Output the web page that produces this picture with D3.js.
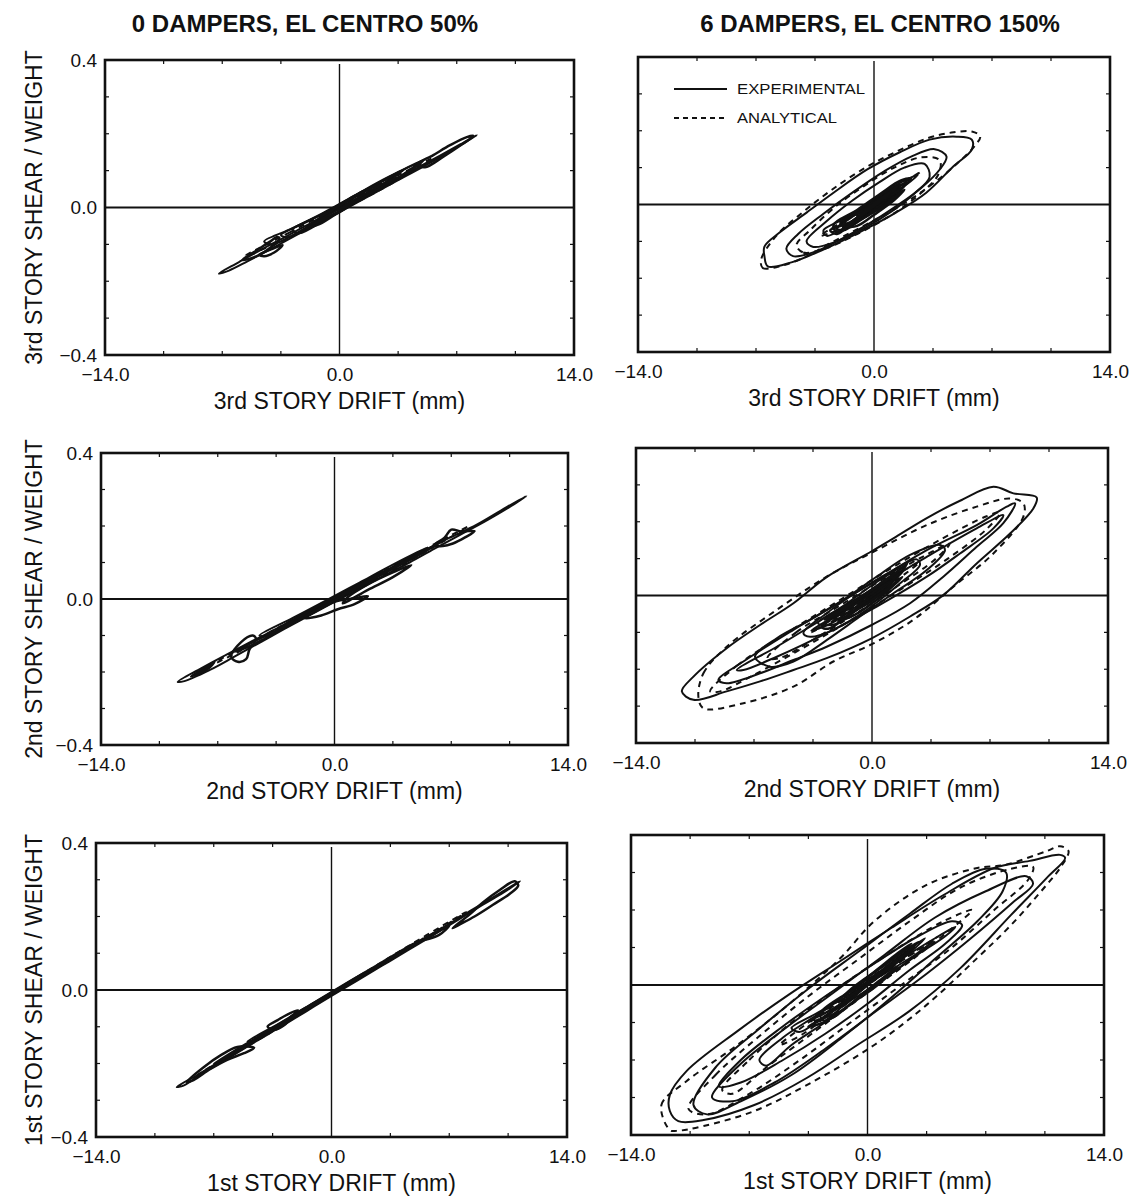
<!DOCTYPE html>
<html>
<head>
<meta charset="utf-8">
<script src="https://cdn.jsdelivr.net/npm/d3@7"></script>
<style>
  body { margin: 0; background: #fff; }
  svg text { font-family: "Liberation Sans", "DejaVu Sans", Arial, sans-serif; fill: #111; }
</style>
</head>
<body>
<svg id="chart" width="1139" height="1200"></svg>
<script>
// Axis ticks and labels
const xTicks = [-14, 0, 14];
const yTicks = [-0.4, 0, 0.4];
const xMinorTicks = [-10.5, -7, -3.5, 3.5, 7, 10.5];
const yMinorTicks = [-0.3, -0.2, -0.1, 0.1, 0.2, 0.3];
const columnTitles = ['0 DAMPERS, EL CENTRO 50%', '6 DAMPERS, EL CENTRO 150%'];
const storyNames = ['3rd', '2nd', '1st'];
const legendLabels = ['EXPERIMENTAL', 'ANALYTICAL'];

// Loops: [drift (mm), shear / weight]
// 0 dampers, 3rd story
const exp0d3 = [
  [[-7.2,-0.179],[-6.0,-0.148],[-4.5,-0.110],[-3.0,-0.074],[-1.5,-0.037],[0,-0.002],[1.5,0.033],[3.0,0.068],[4.5,0.104],[6.0,0.141],[7.2,0.171],[8.2,0.196],[7.6,0.179],[6.4,0.147],[5.0,0.111],[3.5,0.074],[2.0,0.037],[0.5,0.0],[-1.0,-0.036],[-2.5,-0.073],[-4.0,-0.110],[-5.5,-0.146],[-6.6,-0.171]],
  [[-5.8,-0.142],[-5.0,-0.118],[-4.2,-0.094],[-3.7,-0.080],[-3.6,-0.088],[-4.1,-0.108],[-4.6,-0.124],[-5.3,-0.138]],
  [[-4.8,-0.128],[-4.0,-0.112],[-3.4,-0.102],[-3.9,-0.122],[-4.5,-0.132]],
  [[4.6,0.116],[5.6,0.142],[6.6,0.169],[7.6,0.191],[8.0,0.194],[7.3,0.171],[6.2,0.138],[5.1,0.109]],
  [[-4.5,-0.092],[-3.0,-0.060],[-1.0,-0.015],[0.8,0.030],[2.8,0.080],[4.6,0.118],[3.8,0.090],[2.0,0.040],[0.0,-0.010],[-2.0,-0.055],[-4.0,-0.100]],
  [[-3.5,-0.075],[-2.0,-0.040],[-0.5,-0.005],[1.0,0.035],[2.5,0.070],[3.8,0.100],[3.0,0.075],[1.5,0.035],[0.0,0.0],[-1.5,-0.040],[-3.0,-0.080]],
  [[-2.8,-0.060],[-1.2,-0.022],[0.5,0.020],[2.0,0.058],[3.2,0.085],[2.2,0.050],[0.8,0.010],[-0.8,-0.032],[-2.4,-0.070]],
  [[-2.0,-0.055],[-0.5,-0.010],[1.0,0.030],[2.4,0.065],[1.8,0.040],[0.2,-0.005],[-1.2,-0.045]],
  [[-1.2,-0.030],[0.0,0.005],[1.5,0.045],[1.0,0.020],[-0.3,-0.020]],
  [[2.0,0.055],[3.5,0.095],[5.0,0.128],[4.2,0.100],[2.8,0.065]],
  [[-1.6,-0.045],[0.2,0.002],[2.0,0.050],[3.4,0.082],[2.6,0.058],[0.8,0.012],[-0.8,-0.030]]
];
const ana0d3 = [
  [[-5.6,-0.130],[-3.0,-0.068],[0.0,0.004],[3.0,0.076],[5.6,0.134],[3.0,0.062],[0.0,-0.010],[-3.0,-0.082]]
];

// 0 dampers, 2nd story
const exp0d2 = [
  [[-9.4,-0.227],[-8.0,-0.190],[-6.5,-0.153],[-5.0,-0.117],[-3.5,-0.082],[-2.0,-0.045],[-0.5,-0.010],[1.0,0.028],[2.5,0.063],[4.0,0.100],[5.5,0.135],[7.0,0.170],[8.5,0.203],[10.0,0.243],[11.5,0.282],[10.6,0.255],[9.0,0.212],[7.5,0.175],[6.0,0.138],[4.5,0.100],[3.0,0.065],[1.5,0.028],[0.0,-0.008],[-1.5,-0.045],[-3.0,-0.082],[-4.5,-0.120],[-6.0,-0.158],[-7.5,-0.195],[-9.0,-0.225]],
  [[-6.2,-0.158],[-5.6,-0.118],[-4.9,-0.100],[-4.7,-0.110],[-5.1,-0.138],[-5.3,-0.165],[-5.8,-0.172]],
  [[-8.6,-0.212],[-7.8,-0.190],[-7.2,-0.172],[-7.6,-0.192],[-8.2,-0.206]],
  [[6.0,0.148],[6.6,0.168],[7.0,0.190],[7.6,0.185],[8.4,0.186],[7.8,0.168],[7.1,0.152],[6.5,0.145]],
  [[-1.8,-0.052],[-1.0,-0.030],[0.0,-0.008],[1.2,0.002],[2.0,0.008],[1.2,-0.014],[0.2,-0.028],[-0.8,-0.045]],
  [[0.5,-0.012],[2.0,0.025],[3.5,0.060],[4.6,0.093],[3.6,0.075],[2.0,0.040],[0.8,0.005]],
  [[-4.5,-0.100],[-2.5,-0.052],[-0.5,-0.004],[1.5,0.045],[3.5,0.094],[5.5,0.140],[4.0,0.100],[2.0,0.050],[0.0,0.0],[-2.0,-0.050],[-4.0,-0.100]],
  [[-3.0,-0.070],[-1.5,-0.034],[0.0,0.004],[1.5,0.040],[3.0,0.078],[2.0,0.046],[0.5,0.010],[-1.0,-0.028],[-2.5,-0.066]],
  [[-2.0,-0.046],[-0.6,-0.012],[0.8,0.022],[2.0,0.052],[1.0,0.022],[-0.4,-0.014],[-1.6,-0.044]],
  [[-6.0,-0.145],[-3.5,-0.086],[-1.0,-0.020],[1.5,0.038],[4.0,0.098],[6.5,0.160],[5.0,0.118],[2.5,0.058],[0.0,-0.004],[-2.5,-0.066],[-5.0,-0.128]]
];
const ana0d2 = [
  [[-8.0,-0.195],[-4.0,-0.094],[0.0,0.004],[4.0,0.102],[8.0,0.198],[4.0,0.092],[0.0,-0.006],[-4.0,-0.104]]
];

// 0 dampers, 1st story
const exp0d1 = [
  [[-9.2,-0.264],[-8.0,-0.232],[-6.5,-0.190],[-5.0,-0.148],[-3.5,-0.107],[-2.0,-0.066],[-0.5,-0.025],[1.0,0.016],[2.5,0.058],[4.0,0.100],[5.5,0.140],[7.0,0.180],[8.5,0.222],[10.0,0.263],[11.2,0.296],[10.4,0.270],[9.0,0.232],[7.5,0.190],[6.0,0.148],[4.5,0.107],[3.0,0.066],[1.5,0.025],[0.0,-0.016],[-1.5,-0.058],[-3.0,-0.100],[-4.5,-0.140],[-6.0,-0.182],[-7.5,-0.222],[-8.8,-0.260]],
  [[7.2,0.168],[8.2,0.205],[9.0,0.238],[10.0,0.272],[10.9,0.296],[11.1,0.284],[10.6,0.262],[9.6,0.232],[8.5,0.200],[7.6,0.178]],
  [[-8.6,-0.250],[-7.6,-0.210],[-6.6,-0.178],[-5.6,-0.155],[-4.6,-0.157],[-5.2,-0.172],[-6.2,-0.190],[-7.2,-0.215],[-8.2,-0.245]],
  [[-3.8,-0.100],[-3.2,-0.082],[-2.6,-0.066],[-2.0,-0.055],[-2.3,-0.070],[-2.8,-0.095],[-3.4,-0.108]],
  [[5.4,0.135],[6.3,0.158],[7.0,0.175],[6.4,0.150]],
  [[-5.0,-0.140],[-3.0,-0.088],[-1.0,-0.033],[1.0,0.022],[3.0,0.076],[5.0,0.130],[3.5,0.085],[1.5,0.030],[-0.5,-0.025],[-2.5,-0.080],[-4.5,-0.135]],
  [[-2.5,-0.075],[-1.0,-0.034],[0.5,0.006],[2.0,0.048],[1.0,0.018],[-0.5,-0.022],[-2.0,-0.066]],
  [[-7.0,-0.200],[-4.5,-0.130],[-2.0,-0.062],[0.5,0.006],[3.0,0.072],[5.5,0.142],[4.0,0.098],[1.5,0.030],[-1.0,-0.040],[-3.5,-0.110],[-6.0,-0.178]]
];
const ana0d1 = [
  [[-8.0,-0.232],[-4.0,-0.120],[0.0,-0.008],[4.0,0.104],[8.0,0.212],[4.0,0.096],[0.0,-0.014],[-4.0,-0.126]]
];

// 6 dampers, 3rd story
const exp6d3 = [
  [[-6.5,-0.140],[-6.3,-0.168],[-4.9,-0.157],[-3.0,-0.122],[-0.9,-0.076],[1.3,-0.022],[3.1,0.032],[4.7,0.103],[5.8,0.149],[5.8,0.176],[4.9,0.184],[3.3,0.176],[1.5,0.141],[-0.4,0.095],[-2.4,0.032],[-4.0,-0.022],[-5.6,-0.076],[-6.5,-0.114]],
  [[-5.2,-0.120],[-4.8,-0.140],[-3.5,-0.128],[-2.0,-0.095],[-0.3,-0.052],[1.3,-0.005],[2.8,0.045],[3.9,0.095],[4.3,0.130],[3.6,0.150],[2.2,0.130],[0.6,0.090],[-1.2,0.035],[-3.0,-0.025],[-4.5,-0.080]],
  [[-4.0,-0.100],[-3.6,-0.115],[-2.2,-0.100],[-0.6,-0.065],[1.0,-0.020],[2.4,0.030],[3.3,0.075],[3.0,0.110],[1.8,0.100],[0.3,0.060],[-1.3,0.010],[-2.8,-0.045]],
  [[-2.2,-0.065],[-1.2,-0.030],[0.0,0.010],[1.2,0.040],[1.9,0.060],[1.4,0.030],[0.3,-0.010],[-0.9,-0.045],[-1.8,-0.070]],
  [[-1.8,-0.045],[-0.6,-0.010],[0.6,0.030],[1.6,0.055],[1.0,0.020],[-0.2,-0.020],[-1.4,-0.055]],
  [[-1.4,-0.050],[-0.3,-0.015],[0.8,0.020],[1.5,0.045],[0.6,0.005],[-0.6,-0.035]],
  [[-2.4,-0.055],[-1.0,-0.015],[0.4,0.030],[1.6,0.065],[2.2,0.070],[1.5,0.040],[0.2,0.000],[-1.2,-0.050],[-2.2,-0.075]],
  [[-1.0,-0.030],[0.0,0.000],[1.0,0.030],[0.4,0.000],[-0.5,-0.030]],
  [[-3.0,-0.070],[-1.6,-0.035],[0.0,0.015],[1.6,0.060],[2.6,0.080],[1.8,0.050],[0.2,0.000],[-1.5,-0.055],[-2.8,-0.085]],
  [[-2.0,-0.050],[-0.8,-0.020],[0.4,0.015],[1.4,0.050],[0.8,0.022],[-0.4,-0.018],[-1.6,-0.060]],
  [[-1.6,-0.060],[-0.4,-0.030],[0.8,0.005],[1.8,0.040],[1.2,0.012],[0.0,-0.028],[-1.0,-0.058]],
  [[-2.6,-0.070],[-1.4,-0.048],[-0.2,-0.012],[1.0,0.035],[0.2,0.010],[-1.0,-0.035],[-2.2,-0.080]]
];
const ana6d3 = [
  [[-6.7,-0.150],[-6.6,-0.172],[-5.8,-0.170],[-4.2,-0.145],[-2.4,-0.100],[-0.5,-0.055],[1.5,-0.005],[3.3,0.050],[4.9,0.110],[6.0,0.160],[6.3,0.185],[5.8,0.198],[4.6,0.195],[3.2,0.180],[1.4,0.145],[-0.5,0.100],[-2.5,0.040],[-4.2,-0.020],[-5.8,-0.085]],
  [[-4.6,-0.110],[-4.2,-0.130],[-2.8,-0.118],[-1.0,-0.080],[0.8,-0.035],[2.5,0.020],[3.8,0.080],[3.9,0.120],[2.8,0.128],[1.2,0.100],[-0.6,0.050],[-2.4,-0.010],[-3.8,-0.070]],
  [[-3.2,-0.085],[-2.0,-0.050],[0.0,0.010],[2.0,0.065],[2.8,0.090],[1.8,0.060],[0.0,0.000],[-2.0,-0.065]]
];

// 6 dampers, 2nd story
const exp6d2 = [
  [[-11.28,-0.260],[-10.59,-0.220],[-8.62,-0.143],[-6.64,-0.080],[-4.66,-0.021],[-2.69,0.050],[-0.02,0.120],[1.27,0.155],[3.25,0.210],[5.22,0.257],[7.2,0.295],[8.39,0.277],[9.77,0.266],[9.57,0.236],[8.19,0.168],[6.21,0.087],[4.23,0.001],[2.26,-0.057],[-0.02,-0.116],[-2.69,-0.170],[-4.66,-0.202],[-6.64,-0.233],[-8.62,-0.260],[-10.59,-0.283]],
  [[-9.11,-0.229],[-7.63,-0.179],[-4.66,-0.093],[-2.69,-0.039],[-0.02,0.033],[3.25,0.123],[6.21,0.191],[7.99,0.241],[8.49,0.250],[7.79,0.196],[6.21,0.132],[4.23,0.051],[2.26,-0.021],[-0.02,-0.080],[-2.69,-0.139],[-4.66,-0.175],[-6.64,-0.211],[-8.62,-0.238]],
  [[-8.02,-0.202],[-5.65,-0.139],[-2.69,-0.057],[0.28,0.024],[3.25,0.105],[6.21,0.182],[7.79,0.218],[7.2,0.182],[5.22,0.114],[3.25,0.051],[0.28,-0.030],[-2.69,-0.102],[-5.65,-0.166],[-7.63,-0.202]],
  [[-6.94,-0.166],[-5.65,-0.116],[-3.67,-0.066],[-1.7,-0.012],[0.28,0.051],[2.26,0.110],[4.04,0.137],[4.33,0.123],[3.25,0.069],[1.27,0.006],[-0.71,-0.057],[-2.69,-0.121],[-4.66,-0.179],[-6.05,-0.193]],
  [[-4.07,-0.102],[-2.69,-0.048],[-0.71,0.015],[1.27,0.069],[2.65,0.098],[2.85,0.083],[1.67,0.033],[-0.31,-0.039],[-2.29,-0.093],[-3.67,-0.112]],
  [[-3.6,-0.095],[-2.0,-0.050],[0.0,0.010],[2.1,0.087],[1.4,0.050],[-0.4,-0.012],[-2.4,-0.075]],
  [[-3.0,-0.085],[-1.4,-0.035],[0.6,0.028],[1.9,0.070],[0.8,0.020],[-1.0,-0.040],[-2.6,-0.090]],
  [[-2.4,-0.060],[-0.8,-0.012],[1.0,0.045],[1.6,0.060],[0.2,0.005],[-1.6,-0.060]],
  [[-1.8,-0.050],[-0.2,0.000],[1.2,0.040],[0.4,0.000],[-1.0,-0.040]],
  [[-3.2,-0.075],[-1.6,-0.025],[0.4,0.040],[2.0,0.082],[1.2,0.040],[-0.6,-0.022],[-2.2,-0.078]],
  [[-2.0,-0.070],[-0.6,-0.030],[0.8,0.015],[1.8,0.050],[0.6,0.000],[-1.0,-0.052]],
  [[-2.8,-0.065],[-1.2,-0.020],[0.4,0.030],[1.6,0.068],[0.8,0.040],[-0.8,-0.010],[-2.4,-0.058]]
];
const ana6d2 = [
  [[-10.3,-0.274],[-10.0,-0.211],[-8.62,-0.139],[-5.65,-0.039],[-2.69,0.051],[0.28,0.123],[3.25,0.191],[6.21,0.241],[8.19,0.263],[8.98,0.250],[8.98,0.214],[7.2,0.114],[4.83,0.024],[2.45,-0.066],[0.08,-0.130],[-2.29,-0.179],[-4.66,-0.247],[-7.63,-0.292],[-10.0,-0.306]],
  [[-9.6,-0.260],[-8.0,-0.190],[-5.0,-0.100],[-2.0,-0.015],[1.0,0.070],[4.0,0.150],[6.8,0.215],[7.6,0.225],[6.8,0.180],[4.5,0.100],[2.0,0.025],[-1.0,-0.060],[-4.0,-0.140],[-7.0,-0.215],[-9.0,-0.260]],
  [[-6.2,-0.170],[-4.5,-0.100],[-2.0,-0.030],[0.5,0.040],[3.0,0.105],[4.6,0.140],[3.8,0.100],[1.5,0.025],[-1.0,-0.050],[-3.5,-0.120],[-5.5,-0.170]],
  [[-3.6,-0.100],[-2.0,-0.055],[0.0,0.000],[2.0,0.060],[2.8,0.090],[1.6,0.060],[-0.2,0.000],[-2.0,-0.060]]
];

// 6 dampers, 1st story
const exp6d1 = [
  [[-11.7,-0.336],[-11.2,-0.363],[-9.7,-0.360],[-6.7,-0.320],[-3.6,-0.248],[-0.6,-0.160],[2.5,-0.069],[5.5,0.045],[8.5,0.187],[10.6,0.285],[11.7,0.339],[11.4,0.347],[9.6,0.331],[7.5,0.312],[4.5,0.240],[1.4,0.152],[-1.6,0.064],[-4.7,-0.027],[-7.7,-0.123],[-10.7,-0.229],[-11.7,-0.293]],
  [[-10.3,-0.320],[-9.0,-0.220],[-6.5,-0.120],[-3.5,-0.010],[-0.5,0.090],[2.5,0.190],[5.0,0.270],[7.0,0.310],[8.2,0.300],[8.0,0.250],[6.5,0.170],[4.0,0.070],[1.5,-0.030],[-1.5,-0.140],[-4.5,-0.240],[-7.5,-0.310],[-9.5,-0.345]],
  [[-9.2,-0.300],[-7.5,-0.210],[-5.0,-0.120],[-2.0,-0.020],[1.0,0.080],[4.0,0.180],[7.0,0.250],[9.4,0.290],[9.8,0.270],[8.6,0.220],[6.0,0.120],[3.5,0.030],[0.5,-0.070],[-2.5,-0.170],[-5.5,-0.260],[-8.0,-0.310]],
  [[-8.8,-0.270],[-7.5,-0.200],[-5.0,-0.110],[-2.5,-0.030],[0.5,0.060],[3.0,0.130],[5.0,0.170],[5.6,0.160],[4.6,0.110],[2.5,0.040],[0.0,-0.050],[-2.5,-0.130],[-5.0,-0.200],[-7.5,-0.260]],
  [[-6.4,-0.200],[-5.0,-0.140],[-3.0,-0.080],[-0.5,0.000],[2.0,0.070],[4.2,0.130],[5.2,0.155],[4.6,0.130],[2.6,0.070],[0.2,-0.010],[-2.2,-0.090],[-4.5,-0.160],[-6.0,-0.215]],
  [[-4.5,-0.115],[-3.2,-0.080],[-1.2,-0.030],[1.0,0.030],[2.8,0.080],[3.9,0.117],[3.2,0.090],[1.4,0.030],[-0.6,-0.030],[-2.6,-0.085],[-4.0,-0.125]],
  [[-3.0,-0.100],[-1.8,-0.060],[-0.3,-0.010],[1.2,0.040],[2.6,0.090],[3.4,0.125],[2.6,0.100],[1.0,0.045],[-0.6,-0.015],[-2.2,-0.075]],
  [[-2.4,-0.080],[-1.0,-0.030],[0.6,0.020],[2.0,0.070],[2.8,0.100],[1.8,0.070],[0.2,0.010],[-1.4,-0.050]],
  [[-1.8,-0.060],[-0.5,-0.015],[1.0,0.035],[2.2,0.080],[1.2,0.050],[-0.2,-0.005],[-1.4,-0.055]],
  [[-2.8,-0.075],[-1.2,-0.020],[0.4,0.035],[2.0,0.085],[3.0,0.115],[2.2,0.080],[0.5,0.020],[-1.2,-0.045],[-2.6,-0.095]],
  [[-1.2,-0.035],[0.0,0.005],[1.4,0.050],[0.8,0.030],[-0.6,-0.020]],
  [[-3.5,-0.110],[-2.4,-0.085],[-1.6,-0.070],[-2.6,-0.100]],
  [[-2.2,-0.090],[-0.8,-0.045],[0.6,0.000],[1.8,0.050],[0.8,0.015],[-0.6,-0.035],[-1.8,-0.080]],
  [[-1.4,-0.030],[0.0,0.020],[1.6,0.072],[2.6,0.110],[1.8,0.085],[0.4,0.035],[-1.0,-0.012]],
  [[-3.2,-0.090],[-2.0,-0.062],[-0.8,-0.030],[0.2,0.010],[-0.8,-0.012],[-2.2,-0.055]]
];
const ana6d1 = [
  [[-11.7,-0.387],[-12.2,-0.320],[-10.7,-0.256],[-7.7,-0.160],[-4.7,-0.053],[-1.6,0.072],[0.4,0.170],[3.5,0.267],[6.5,0.312],[8.1,0.320],[10.6,0.357],[11.4,0.370],[11.9,0.357],[11.4,0.312],[10.6,0.267],[8.5,0.160],[6.5,0.072],[3.5,-0.053],[0.4,-0.160],[-3.6,-0.267],[-6.7,-0.336],[-9.7,-0.376],[-11.3,-0.389]],
  [[-10.6,-0.330],[-9.0,-0.240],[-6.5,-0.140],[-3.5,-0.030],[-0.5,0.070],[2.5,0.170],[5.5,0.260],[8.5,0.310],[9.8,0.315],[9.5,0.280],[7.5,0.200],[5.0,0.100],[2.0,0.000],[-1.0,-0.100],[-4.0,-0.200],[-7.0,-0.290],[-9.5,-0.345]],
  [[-8.6,-0.280],[-7.0,-0.200],[-4.5,-0.100],[-1.5,0.000],[1.5,0.090],[4.5,0.170],[6.2,0.200],[5.5,0.170],[3.0,0.080],[0.0,-0.020],[-3.0,-0.120],[-6.0,-0.220],[-8.0,-0.290]],
  [[-5.2,-0.160],[-3.5,-0.100],[-1.0,-0.020],[1.5,0.050],[3.6,0.110],[4.2,0.130],[3.0,0.095],[0.8,0.025],[-1.5,-0.050],[-3.8,-0.130]],
  [[-3.4,-0.100],[-1.5,-0.040],[0.8,0.030],[2.8,0.100],[1.8,0.070],[-0.4,0.000],[-2.4,-0.080]]
];

// Panel frames (pixels) follow the slightly skewed scan
const panels = [
  { box: [105, 574, 60, 355],   row: 0, col: 0, exp: exp0d3, ana: ana0d3 },
  { box: [101, 568, 453, 745],  row: 1, col: 0, exp: exp0d2, ana: ana0d2 },
  { box: [96, 567, 843, 1137],  row: 2, col: 0, exp: exp0d1, ana: ana0d1 },
  { box: [638, 1110, 57, 352],  row: 0, col: 1, exp: exp6d3, ana: ana6d3, legend: true },
  { box: [636, 1108, 448, 743], row: 1, col: 1, exp: exp6d2, ana: ana6d2 },
  { box: [631, 1104, 835, 1135], row: 2, col: 1, exp: exp6d1, ana: ana6d1 }
];

const ink = '#111';
const svg = d3.select('#chart');
const fmt = d3.format('.1f');

// small central loops are drawn a little heavier so the core reads as dense ink
const loopWidth = pts => (d3.max(pts, d => d[0]) - d3.min(pts, d => d[0]) < 5 ? 2.5 : 2);

// Column titles
svg.selectAll('.col-title')
  .data(columnTitles)
  .join('text')
  .attr('class', 'col-title')
  .attr('x', (d, i) => i === 0 ? 305 : 880)
  .attr('y', 32)
  .attr('text-anchor', 'middle')
  .attr('font-size', 24)
  .attr('font-weight', 'bold')
  .text(d => d);

panels.forEach(p => {
  const [x0, x1, y0, y1] = p.box;
  const x = d3.scaleLinear().domain([-14, 14]).range([x0, x1]);
  const y = d3.scaleLinear().domain([-0.4, 0.4]).range([y1, y0]);
  const g = svg.append('g');

  // small inward ticks on the frame
  xMinorTicks.forEach(t => {
    g.append('line').attr('x1', x(t)).attr('x2', x(t)).attr('y1', y1).attr('y2', y1 - 4)
      .attr('stroke', ink).attr('stroke-width', 1.2);
    g.append('line').attr('x1', x(t)).attr('x2', x(t)).attr('y1', y0).attr('y2', y0 + 4)
      .attr('stroke', ink).attr('stroke-width', 1.2);
  });
  yMinorTicks.forEach(t => {
    g.append('line').attr('x1', x0).attr('x2', x0 + 4).attr('y1', y(t)).attr('y2', y(t))
      .attr('stroke', ink).attr('stroke-width', 1.2);
    g.append('line').attr('x1', x1).attr('x2', x1 - 4).attr('y1', y(t)).attr('y2', y(t))
      .attr('stroke', ink).attr('stroke-width', 1.2);
  });

  // zero lines
  g.append('line').attr('x1', x0).attr('x2', x1).attr('y1', y(0)).attr('y2', y(0))
    .attr('stroke', ink).attr('stroke-width', 1.8);
  g.append('line').attr('x1', x(0)).attr('x2', x(0)).attr('y1', y0 + 4).attr('y2', y1)
    .attr('stroke', ink).attr('stroke-width', 1.4);

  // hysteresis loops
  const loop = d3.line()
    .x(d => x(d[0]))
    .y(d => y(d[1]))
    .curve(d3.curveCatmullRomClosed.alpha(0.5));

  g.selectAll('.ana')
    .data(p.ana)
    .join('path')
    .attr('class', 'ana')
    .attr('d', loop)
    .attr('fill', 'none')
    .attr('stroke', ink)
    .attr('stroke-width', 2)
    .attr('stroke-dasharray', '6,5');

  g.selectAll('.exp')
    .data(p.exp)
    .join('path')
    .attr('class', 'exp')
    .attr('d', loop)
    .attr('fill', 'none')
    .attr('stroke', ink)
    .attr('stroke-width', loopWidth);

  // frame
  g.append('rect')
    .attr('x', x0).attr('y', y0)
    .attr('width', x1 - x0).attr('height', y1 - y0)
    .attr('fill', 'none').attr('stroke', ink).attr('stroke-width', 2.6);

  // x axis labels
  g.append('g')
    .attr('transform', `translate(0,${y1})`)
    .call(d3.axisBottom(x).tickValues(xTicks).tickSize(0).tickPadding(13).tickFormat(fmt))
    .call(a => a.select('.domain').remove())
    .attr('font-size', 19)
    .attr('font-family', null);

  g.append('text')
    .attr('x', (x0 + x1) / 2)
    .attr('y', y1 + 54)
    .attr('text-anchor', 'middle')
    .attr('font-size', 23)
    .text(`${storyNames[p.row]} STORY DRIFT (mm)`);

  // y axis labels on left column only
  if (p.col === 0) {
    g.append('g')
      .attr('transform', `translate(${x0},0)`)
      .call(d3.axisLeft(y).tickValues(yTicks).tickSize(0).tickPadding(8).tickFormat(fmt))
      .call(a => a.select('.domain').remove())
      .attr('font-size', 19)
      .attr('font-family', null);

    g.append('text')
      .attr('transform', `translate(34,${(y0 + y1) / 2}) rotate(-90)`)
      .attr('text-anchor', 'middle')
      .attr('dominant-baseline', 'central')
      .attr('font-size', 23)
      .text(`${storyNames[p.row]} STORY SHEAR / WEIGHT`);
  }

  // legend
  if (p.legend) {
    legendLabels.forEach((label, i) => {
      const ly = y0 + 32 + i * 29;
      g.append('line')
        .attr('x1', x0 + 36).attr('x2', x0 + 89)
        .attr('y1', ly).attr('y2', ly)
        .attr('stroke', ink).attr('stroke-width', 1.8)
        .attr('stroke-dasharray', i === 0 ? null : '5,4');
      g.append('text')
        .attr('x', x0 + 99).attr('y', ly + 5)
        .attr('font-size', 14)
        .attr('textLength', i === 0 ? 128 : 100)
        .attr('lengthAdjust', 'spacingAndGlyphs')
        .text(label);
    });
  }
});
</script>
</body>
</html>
